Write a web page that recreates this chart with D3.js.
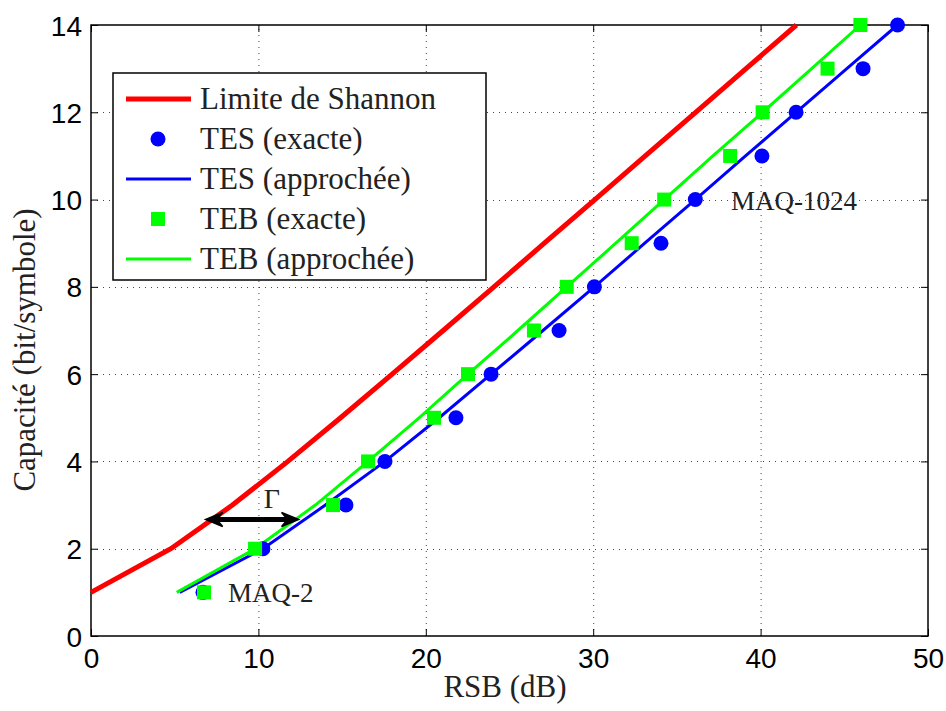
<!DOCTYPE html>
<html><head><meta charset="utf-8">
<script src="https://cdn.jsdelivr.net/npm/d3@7"></script>
<style>
html,body{margin:0;padding:0;background:#fff;}
svg{display:block;}
</style></head>
<body>
<svg id="chart" width="946" height="711"></svg>
<script>
// ---- data ----
const capacity = [1,2,3,4,5,6,7,8,9,10,11,12,13,14];
const shannonSNR = [0,4.77,8.45,11.76,14.91,17.99,21.04,24.07,27.08,30.10,33.11,36.12,39.13,42.14];
const tesExactSNR = [6.69,10.27,15.23,17.56,21.8,23.9,27.96,30.07,34.05,36.1,40.08,42.12,46.12,48.18];
const tesApproxSNR = [5.3,10.27,14.0,17.56,20.8,23.9,27.0,30.07,33.08,36.1,39.1,42.12,45.15,48.18];
const tebExactSNR = [6.75,9.8,14.46,16.55,20.49,22.52,26.46,28.42,32.3,34.24,38.18,40.12,44.0,45.96];
const tebApproxSNR = [5.12,9.8,13.4,16.55,19.6,22.52,25.5,28.42,31.35,34.24,37.15,40.12,43.05,45.96];
const xTicks = [0,10,20,30,40,50];
const yTicks = [0,2,4,6,8,10,12,14];
const legendLabels = ["Limite de Shannon","TES (exacte)","TES (approchée)","TEB (exacte)","TEB (approchée)"];
const gammaArrow = {x0:6.85, x1:12.4, y:2.67};

// ---- chart ----
const svg = d3.select("#chart");
const L=91, R=928, T=25, B=636;
const x = d3.scaleLinear().domain([0,50]).range([L,R]);
const y = d3.scaleLinear().domain([0,14]).range([B,T]);
const serif = "'Liberation Serif','DejaVu Serif',serif";
const sans = "'Liberation Sans',Arial,sans-serif";
const RED="#ff0000", BLUE="#0000ff", GREEN="#00ff00";
const TXT="#222";

// grid
const grid = svg.append("g").attr("stroke","#444").attr("stroke-width",1).attr("stroke-dasharray","1,5");
xTicks.slice(1,-1).forEach(t=>grid.append("line").attr("x1",x(t)+0.5).attr("x2",x(t)+0.5).attr("y1",B).attr("y2",T));
yTicks.slice(1,-1).forEach(t=>grid.append("line").attr("y1",Math.round(y(t))+0.5).attr("y2",Math.round(y(t))+0.5).attr("x1",L).attr("x2",R));

// axes with inner ticks
const tickLen = 7;
const xAxisB = d3.axisBottom(x).tickValues(xTicks).tickSize(-tickLen).tickPadding(12);
const xAxisT = d3.axisTop(x).tickValues(xTicks).tickSize(-tickLen).tickFormat("");
const yAxisL = d3.axisLeft(y).tickValues(yTicks).tickSize(-tickLen).tickPadding(9);
const yAxisR = d3.axisRight(y).tickValues(yTicks).tickSize(-tickLen).tickFormat("");
function styleAxis(g){ g.select(".domain").remove(); g.selectAll("line").attr("stroke","#000"); g.selectAll("text").attr("fill","#000").style("font-family",sans).style("font-size","28px"); }
svg.append("g").attr("transform",`translate(0,${B})`).call(xAxisB).call(styleAxis);
svg.append("g").attr("transform",`translate(0,${T})`).call(xAxisT).call(styleAxis);
svg.append("g").attr("transform",`translate(${L},0)`).call(yAxisL).call(styleAxis).selectAll("text").attr("dy","0.36em");
svg.append("g").attr("transform",`translate(${R},0)`).call(yAxisR).call(styleAxis);
svg.append("rect").attr("x",L).attr("y",T).attr("width",R-L).attr("height",B-T).attr("fill","none").attr("stroke","#000").attr("stroke-width",1.5);

// lines
const line = (xs)=>d3.line().x((d,i)=>x(xs[i])).y(d=>y(d))(capacity);
svg.append("path").attr("d",line(shannonSNR)).attr("fill","none").attr("stroke",RED).attr("stroke-width",5);
svg.append("path").attr("d",line(tesApproxSNR)).attr("fill","none").attr("stroke",BLUE).attr("stroke-width",3);
svg.append("path").attr("d",line(tebApproxSNR)).attr("fill","none").attr("stroke",GREEN).attr("stroke-width",3);

// markers
svg.append("g").selectAll("circle").data(capacity).join("circle")
  .attr("cx",(d,i)=>x(tesExactSNR[i])).attr("cy",d=>y(d)).attr("r",7.5).attr("fill",BLUE);
svg.append("g").selectAll("rect").data(capacity).join("rect")
  .attr("x",(d,i)=>x(tebExactSNR[i])-7).attr("y",d=>y(d)-7).attr("width",14).attr("height",14).attr("fill",GREEN);

// gamma arrow
const ay = y(gammaArrow.y), ax0 = x(gammaArrow.x0), ax1 = x(gammaArrow.x1);
svg.append("line").attr("x1",ax0+8).attr("x2",ax1-8).attr("y1",ay).attr("y2",ay).attr("stroke","#000").attr("stroke-width",5);
function head(tx,dir){
  const p=[[tx,ay],[tx+dir*17,ay-7],[tx+dir*11,ay],[tx+dir*17,ay+7]];
  svg.append("path").attr("d","M"+p.map(q=>q.join(",")).join("L")+"Z").attr("fill","#000").attr("stroke","#000").attr("stroke-width",1.5).attr("stroke-linejoin","miter");
}
head(ax0,1); head(ax1,-1);
svg.append("text").attr("x",x(10.8)).attr("y",y(2.93)).attr("text-anchor","middle")
  .style("font-family",serif).style("font-size","28px").attr("fill",TXT).text("Γ");

// annotations
svg.append("text").attr("x",228).attr("y",y(1)).attr("dy","0.35em").style("font-family",serif).style("font-size","27px").attr("fill",TXT).text("MAQ-2");
svg.append("text").attr("x",731).attr("y",y(10)+1).attr("dy","0.35em").style("font-family",serif).style("font-size","27px").attr("fill",TXT).text("MAQ-1024");

// axis labels
svg.append("text").attr("x",505).attr("y",697).attr("text-anchor","middle").style("font-family",serif).style("font-size","31px").attr("fill",TXT).text("RSB (dB)");
svg.append("text").attr("transform",`translate(35,350) rotate(-90)`).attr("text-anchor","middle").style("font-family",serif).style("font-size","31px").attr("fill",TXT).text("Capacité (bit/symbole)");

// legend
const lg = svg.append("g");
lg.append("rect").attr("x",113).attr("y",73).attr("width",373).attr("height",207).attr("fill","#fff").attr("stroke","#000").attr("stroke-width",1.5);
legendLabels.forEach((lab,i)=>{
  const cy = 99 + i*40;
  if(i===0) lg.append("line").attr("x1",126).attr("x2",191).attr("y1",cy).attr("y2",cy).attr("stroke",RED).attr("stroke-width",5);
  if(i===1) lg.append("circle").attr("cx",158).attr("cy",cy).attr("r",7.5).attr("fill",BLUE);
  if(i===2) lg.append("line").attr("x1",126).attr("x2",191).attr("y1",cy).attr("y2",cy).attr("stroke",BLUE).attr("stroke-width",3);
  if(i===3) lg.append("rect").attr("x",151).attr("y",cy-7).attr("width",14).attr("height",14).attr("fill",GREEN);
  if(i===4) lg.append("line").attr("x1",126).attr("x2",191).attr("y1",cy).attr("y2",cy).attr("stroke",GREEN).attr("stroke-width",3);
  lg.append("text").attr("x",200).attr("y",cy).attr("dy","0.33em").style("font-family",serif).style("font-size","31px").attr("fill",TXT).text(lab);
});
</script>
</body></html>
